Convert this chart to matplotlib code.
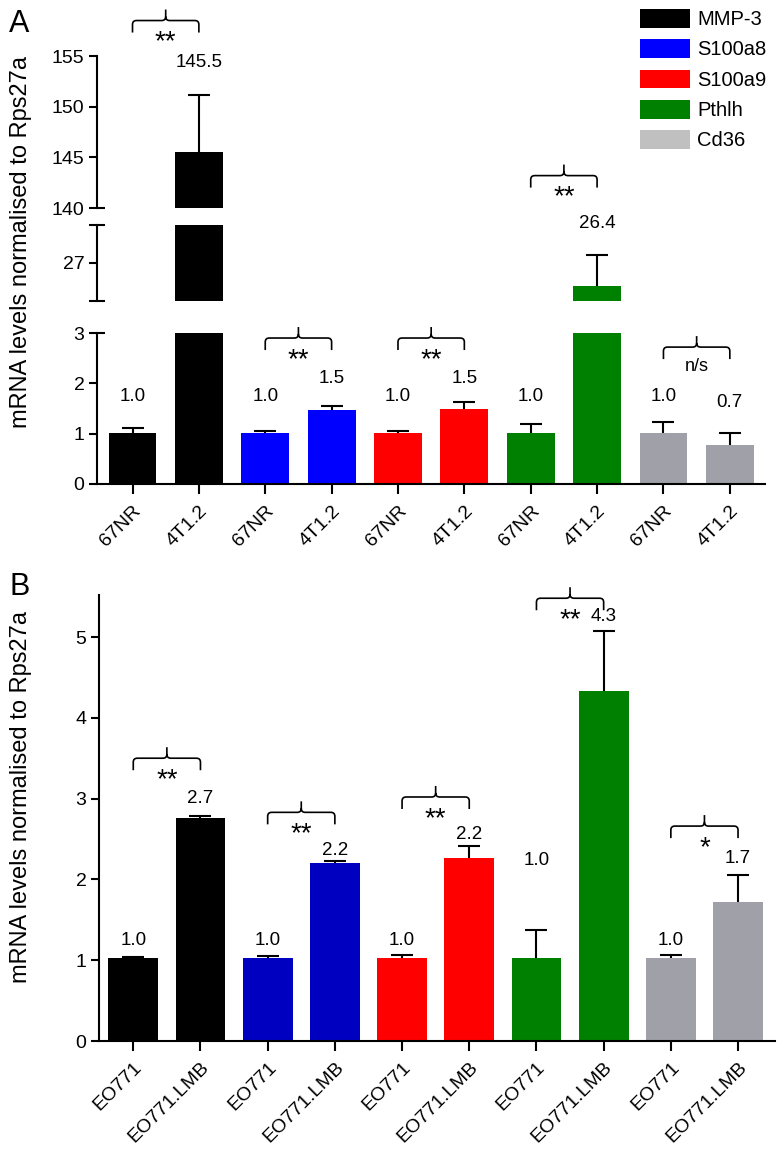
import matplotlib as mpl
import matplotlib.pyplot as plt
import numpy as np
from matplotlib.patches import Patch, PathPatch
from matplotlib.path import Path
from matplotlib.transforms import IdentityTransform

mpl.rcParams['font.family'] = ['Liberation Sans', 'DejaVu Sans']

# data
genes = ['MMP-3', 'S100a8', 'S100a9', 'Pthlh', 'Cd36']
a_lines = ['67NR', '4T1.2'] * 5
a_vals = [1.02, 145.5, 1.02, 1.47, 1.02, 1.49, 1.02, 26.4, 1.02, 0.77]
a_err = [0.10, 5.7, 0.04, 0.08, 0.03, 0.14, 0.17, 0.8, 0.21, 0.24]
a_text = ['1.0', '145.5', '1.0', '1.5', '1.0', '1.5', '1.0', '26.4', '1.0', '0.7']
a_sig = ['**', '**', '**', '**', 'n/s']

b_lines = ['EO771', 'EO771.LMB'] * 5
b_vals = [1.03, 2.76, 1.03, 2.20, 1.03, 2.27, 1.03, 4.33, 1.03, 1.72]
b_err = [0.01, 0.03, 0.02, 0.03, 0.04, 0.14, 0.34, 0.74, 0.04, 0.34]
b_text = ['1.0', '2.7', '1.0', '2.2', '1.0', '2.2', '1.0', '4.3', '1.0', '1.7']
b_sig = ['**', '**', '**', '**', '*']

a_colors = ['#000000', '#0000FF', '#FF0000', '#008000', '#A0A0A8']
b_colors = ['#000000', '#0000C0', '#FF0000', '#008000', '#A0A0A8']
leg_colors = ['#000000', '#0000FF', '#FF0000', '#008000', '#C0C0C0']

W, H = 778, 1165
fig = plt.figure(figsize=(W / 100, H / 100), dpi=100)


def box(l, t, r, b):
    return [l / W, 1 - b / H, (r - l) / W, (b - t) / H]


def upper_err(ax, xs, vals, errs):
    # only the upper half of the error bar, no cap on the bar itself
    eb = ax.errorbar(xs, vals, yerr=[np.zeros(len(vals)), errs], fmt='none',
                     ecolor='k', elinewidth=1.5, capsize=8, capthick=1.5)
    for cl in eb[1]:
        if np.allclose(cl.get_ydata(), vals):
            cl.set_visible(False)


def bracket(ax, x0, x1, y, text):
    tr = ax.transData
    X0, Y = tr.transform((x0, y))
    X1, _ = tr.transform((x1, y))
    Xm = (X0 + X1) / 2
    d, s, r = 12, 11, 4
    verts = [(X0, Y - d), (X0, Y - r), (X0, Y), (X0 + r, Y), (Xm - r, Y),
             (Xm, Y), (Xm, Y + r), (Xm, Y + s),
             (X1, Y - d), (X1, Y - r), (X1, Y), (X1 - r, Y), (Xm + r, Y),
             (Xm, Y), (Xm, Y + r)]
    codes = [Path.MOVETO, Path.LINETO, Path.CURVE3, Path.CURVE3, Path.LINETO,
             Path.CURVE3, Path.CURVE3, Path.LINETO,
             Path.MOVETO, Path.LINETO, Path.CURVE3, Path.CURVE3, Path.LINETO,
             Path.CURVE3, Path.CURVE3]
    pp = PathPatch(Path(verts, codes), transform=IdentityTransform(),
                   fill=False, lw=1.2, edgecolor='k', clip_on=False)
    fig.add_artist(pp)
    if '*' in text:
        ax.annotate(text, ((x0 + x1) / 2, y), xytext=(0, -22),
                    textcoords='offset pixels', ha='center', va='center',
                    fontsize=20, annotation_clip=False)
    else:
        ax.annotate(text, ((x0 + x1) / 2, y), xytext=(0, -19),
                    textcoords='offset pixels', ha='center', va='center',
                    fontsize=13, annotation_clip=False)


x = np.arange(10)
barA = np.repeat(a_colors, 2)
barB = np.repeat(b_colors, 2)

# ---- panel A : broken axis in three pieces
axT = fig.add_axes(box(97, 56, 765, 208))
axM = fig.add_axes(box(97, 225, 765, 301))
axL = fig.add_axes(box(97, 333, 765, 484))

for ax in (axT, axM, axL):
    ax.bar(x, a_vals, width=0.72, color=barA, lw=0)
    upper_err(ax, x, a_vals, a_err)
    ax.set_xlim(-0.535, 9.53)
    for sp in ('top', 'right'):
        ax.spines[sp].set_visible(False)
    ax.spines['left'].set_linewidth(1.5)
    ax.tick_params(axis='y', which='major', direction='out', length=6,
                   width=1.5, labelsize=14, pad=3)
    ax.tick_params(axis='y', which='minor', direction='inout', length=12,
                   width=1.5, labelsize=14, pad=3)

for ax in (axT, axM):
    ax.spines['bottom'].set_visible(False)
    ax.tick_params(axis='x', bottom=False, labelbottom=False)

axT.set_ylim(140, 155)
axT.set_yticks([145, 150, 155])
axT.set_yticks([140], minor=True)
axT.set_yticklabels(['140'], minor=True)

axM.set_ylim(26, 28)
axM.set_yticks([27])
axM.set_yticks([26, 28], minor=True)
axM.set_yticklabels(['', ''], minor=True)

axL.set_ylim(0, 3)
axL.set_yticks([0, 1, 2])
axL.set_yticks([3], minor=True)
axL.set_yticklabels(['3'], minor=True)
axL.spines['bottom'].set_linewidth(1.5)
axL.set_xticks(x)
axL.set_xticklabels(a_lines, rotation=45, ha='right', va='top',
                    rotation_mode='anchor', fontsize=14)
axL.tick_params(axis='x', direction='out', length=7, width=1.5, pad=6)

# value labels (data y of text centres)
a_ty = [(axL, 1.73), (axT, 154.4), (axL, 1.73), (axL, 2.1), (axL, 1.73),
        (axL, 2.1), (axL, 1.73), (axM, 28.05), (axL, 1.73), (axL, 1.62)]
for i, (ax, ty) in enumerate(a_ty):
    ax.text(i, ty, a_text[i], ha='center', va='center', fontsize=13.5,
            clip_on=False)

a_br = [(axT, 158.5), (axL, 2.9), (axL, 2.9), (axM, 29.3), (axL, 2.72)]
for g, (ax, by) in enumerate(a_br):
    bracket(ax, 2 * g, 2 * g + 1, by, a_sig[g])

# ---- panel B
axB = fig.add_axes(box(99, 595, 775, 1041))
axB.bar(x, b_vals, width=0.74, color=barB, lw=0)
upper_err(axB, x, b_vals, b_err)
axB.set_xlim(-0.51, 9.55)
axB.set_ylim(0, 5.52)
axB.set_yticks([0, 1, 2, 3, 4, 5])
for sp in ('top', 'right'):
    axB.spines[sp].set_visible(False)
for sp in ('left', 'bottom'):
    axB.spines[sp].set_linewidth(1.5)
axB.tick_params(axis='y', direction='out', length=6, width=1.5,
                labelsize=14, pad=3)
axB.set_xticks(x)
axB.set_xticklabels(b_lines, rotation=45, ha='right', va='top',
                    rotation_mode='anchor', fontsize=14)
axB.tick_params(axis='x', direction='out', length=7, width=1.5, pad=6)

b_ty = [1.25, 3.0, 1.25, 2.36, 1.25, 2.55, 2.23, 5.25, 1.25, 2.26]
for i, ty in enumerate(b_ty):
    axB.text(i, ty, b_text[i], ha='center', va='center', fontsize=13.5,
             clip_on=False)

b_by = [3.50, 2.83, 3.02, 5.48, 2.66]
for g, by in enumerate(b_by):
    bracket(axB, 2 * g, 2 * g + 1, by, b_sig[g])

# ---- labels, legend
ylab = 'mRNA levels normalised to Rps27a'
fig.text(21 / W, 1 - 242 / H, ylab, rotation=90, ha='center', va='center',
         fontsize=17)
fig.text(21 / W, 1 - 797 / H, ylab, rotation=90, ha='center', va='center',
         fontsize=17)
fig.text(9 / W, 1 - 32 / H, 'A', fontsize=22)
fig.text(9 / W, 1 - 595 / H, 'B', fontsize=22)

handles = [Patch(facecolor=c, edgecolor='none') for c in leg_colors]
fig.legend(handles, genes, loc='upper left', bbox_to_anchor=(640 / W, 1 - 9 / H),
           frameon=False, fontsize=14.5, handlelength=2.5, handleheight=1.05,
           labelspacing=0.5, handletextpad=0.35, borderpad=0, borderaxespad=0)

fig.savefig('out.png', dpi=100, facecolor='white')
